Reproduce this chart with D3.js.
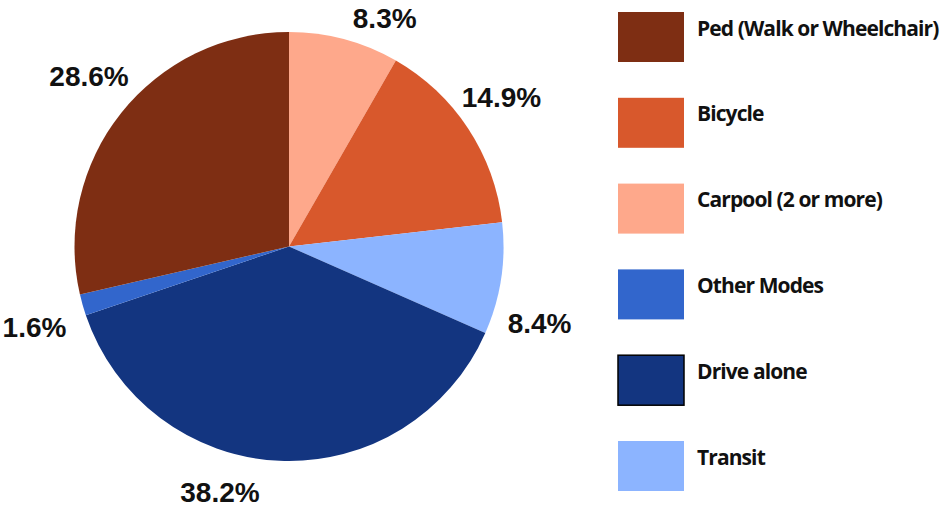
<!DOCTYPE html>
<html lang="en">
<head>
    <meta charset="UTF-8">
    <title>Mode share</title>
    <script src="https://d3js.org/d3.v7.min.js"></script>
    <style>
        body { margin: 0; background: #fff; }
        .pct { font-family: "Liberation Sans", Arial, sans-serif; font-weight: bold; font-size: 28px; fill: #111; }
        .legend-label { font-family: "Open Sans", sans-serif; font-weight: bold; font-size: 21px; letter-spacing: -0.9px; fill: #111; }
    </style>
</head>
<body>
    <svg id="svg"></svg>
    <script>
        // slices in clockwise order from 12 o'clock
        const modes = ["Carpool (2 or more)", "Bicycle", "Transit", "Drive alone", "Other Modes", "Ped (Walk or Wheelchair)"];
        const shares = [8.3, 14.9, 8.4, 38.2, 1.6, 28.6];
        const colors = ["#fea88b", "#d8582c", "#8cb4ff", "#133580", "#3266cc", "#7e2e13"];
        // legend order
        const legendOrder = ["Ped (Walk or Wheelchair)", "Bicycle", "Carpool (2 or more)", "Other Modes", "Drive alone", "Transit"];

        const width = 950;
        const height = 508;
        const cx = 289, cy = 246.5, radius = 214.5;

        // where each percentage label sits (degrees clockwise from top, distance from centre)
        const labelAngle = [22.7, 54.8, 107, 195.7, 252.4, 310.5];
        const labelDist = [248, 260, 262, 255, 267, 263];

        const svg = d3.select('#svg')
            .attr('width', width)
            .attr('height', height);

        const color = d3.scaleOrdinal().domain(modes).range(colors);

        const pie = d3.pie().sort(null).value(d => d.v);
        const arcs = pie(modes.map((m, i) => ({ m: m, v: shares[i] })));
        const arc = d3.arc().innerRadius(0).outerRadius(radius);

        const g = svg.append('g').attr('transform', `translate(${cx},${cy})`);

        g.selectAll('path')
            .data(arcs)
            .enter()
            .append('path')
            .attr('d', arc)
            .attr('fill', d => color(d.data.m));

        g.selectAll('text.pct')
            .data(arcs)
            .enter()
            .append('text')
            .attr('class', 'pct')
            .attr('text-anchor', 'middle')
            .attr('dy', '0.36em')
            .attr('transform', (d, i) => {
                const p = d3.pointRadial(labelAngle[i] * Math.PI / 180, labelDist[i]);
                return `translate(${p[0]},${p[1]})`;
            })
            .text(d => d.data.v.toFixed(1) + '%');

        // legend
        const legendY = d3.scalePoint().domain(legendOrder).range([12, 441]);
        const legend = svg.append('g').attr('transform', 'translate(618,0)');
        const item = legend.selectAll('g')
            .data(legendOrder)
            .enter()
            .append('g')
            .attr('transform', d => `translate(0,${legendY(d)})`);

        item.append('rect')
            .attr('width', 66)
            .attr('height', 50)
            .attr('fill', d => color(d))
            .attr('stroke', d => d === "Drive alone" ? '#000' : 'none')
            .attr('stroke-width', 1.5);

        item.append('text')
            .attr('class', 'legend-label')
            .attr('x', 79)
            .attr('y', 23.5)
            .text(d => d);
    </script>
</body>
</html>
